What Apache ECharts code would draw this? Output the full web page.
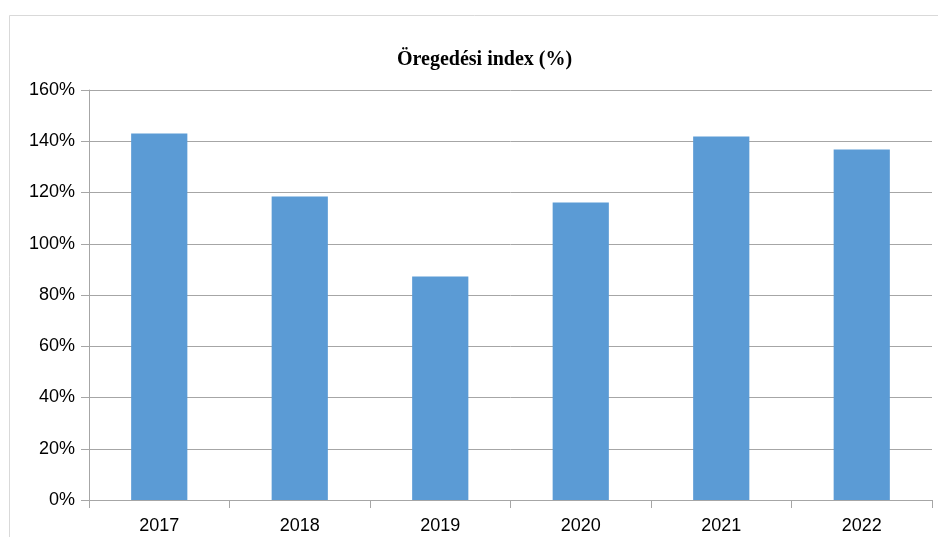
<!DOCTYPE html>
<html>
<head>
<meta charset="utf-8">
<script src="https://cdn.jsdelivr.net/npm/echarts@6/dist/echarts.min.js"></script>
<style>html,body{margin:0;padding:0;background:#fff;}#c{width:938px;height:537px;}</style>
</head>
<body>
<div id="c"></div>
<script>
const categories = ['2017', '2018', '2019', '2020', '2021', '2022'];
const agingIndex = [143.0, 118.4, 87.2, 116.1, 141.9, 136.8];
const yTicks = { min: 0, max: 160, interval: 20 };
const titleText = 'Öregedési index (%)';

const chart = echarts.init(document.getElementById('c'), null, { renderer: 'canvas' });
chart.setOption({
  animation: false,
  backgroundColor: '#fff',
  graphic: [{
    type: 'rect',
    shape: { x: 9.5, y: 15.5, width: 940, height: 540 },
    style: { fill: 'none', stroke: '#d9d9d9', lineWidth: 1 },
    silent: true, z: -1
  }],
  title: {
    text: titleText,
    left: 392,
    top: 45,
    textStyle: { fontFamily: 'Liberation Serif', fontWeight: 'bold', fontSize: 20, color: '#000' }
  },
  grid: { left: 89, right: 6, top: 90, bottom: 37, containLabel: false },
  xAxis: {
    type: 'category',
    data: categories,
    axisLine: { show: true, lineStyle: { color: '#a6a6a6', width: 1 } },
    axisTick: { show: true, length: 8, lineStyle: { color: '#a6a6a6' } },
    axisLabel: { color: '#000', fontFamily: 'Liberation Sans', fontSize: 18, margin: 17 },
    splitLine: { show: false }
  },
  yAxis: {
    type: 'value',
    min: yTicks.min, max: yTicks.max, interval: yTicks.interval,
    axisLine: { show: true, lineStyle: { color: '#a6a6a6', width: 1 } },
    axisTick: { show: true, length: 8, lineStyle: { color: '#a6a6a6' } },
    axisLabel: { color: '#000', fontFamily: 'Liberation Sans', fontSize: 18, margin: 14, formatter: '{value}%' },
    splitLine: { show: true, lineStyle: { color: '#a6a6a6', width: 1 } }
  },
  series: [{
    type: 'bar',
    data: agingIndex,
    barWidth: '40%',
    itemStyle: { color: '#5b9bd5' }
  }]
});
</script>
</body>
</html>
